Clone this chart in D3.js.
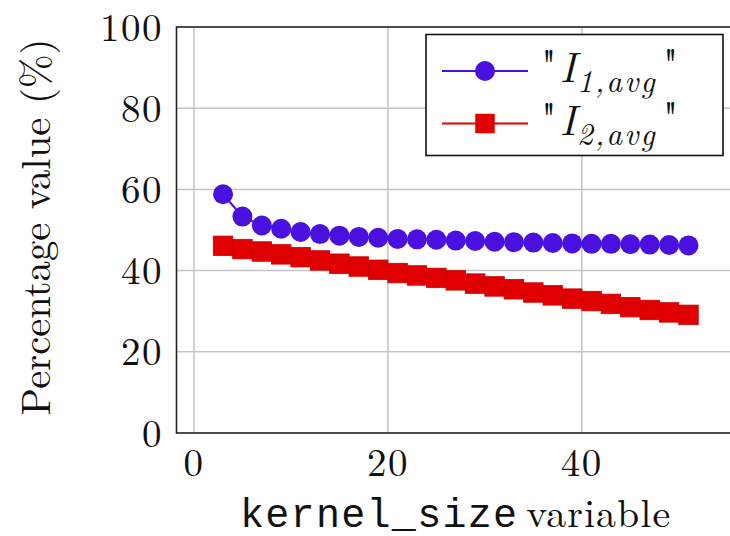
<!DOCTYPE html>
<html>
<head>
<meta charset="utf-8">
<script src="https://cdn.jsdelivr.net/npm/d3@7"></script>
<style>
  body { margin: 0; background: #fff; }
  svg { display: block; }
</style>
</head>
<body>
<div id="chart"></div>
<script>
//////////////////////////////////////////////////////////////////////////////
// Data

var kernelSizes = [3, 5, 7, 9, 11, 13, 15, 17, 19, 21, 23, 25, 27, 29, 31, 33, 35, 37, 39, 41, 43, 45, 47, 49, 51];
var i1Avg = [58.8, 53.3, 51.1, 50.3, 49.5, 49.0, 48.6, 48.3, 48.1, 47.8, 47.7, 47.6, 47.4,
             47.3, 47.1, 47.0, 46.9, 46.8, 46.7, 46.6, 46.6, 46.5, 46.4, 46.3, 46.2];
var i2Avg = [46.1, 45.3, 44.7, 44.0, 43.3, 42.5, 41.7, 41.0, 40.2, 39.4, 38.8, 38.2, 37.6,
             36.8, 36.1, 35.4, 34.6, 33.9, 33.1, 32.5, 31.8, 31.0, 30.3, 29.7, 29.1];
var xTicks = [0, 20, 40];
var yTicks = [0, 20, 40, 60, 80, 100];
var seriesNames = ["1,avg", "2,avg"];

//////////////////////////////////////////////////////////////////////////////
// Setup

var width = 730, height = 536;
var serif = "'Latin Modern Roman', 'CMU Serif', 'Liberation Serif', serif";
var mono = "'Liberation Mono', 'DejaVu Sans Mono', monospace";
var blue = "#4a10e0", red = "#e00000";

var xScale = d3.scaleLinear().domain([-1.8, 56]).range([176.5, 737]);
var yScale = d3.scaleLinear().domain([0, 100]).range([433, 27]);

var svg = d3.select("#chart")
    .append("svg")
    .attr("width", width)
    .attr("height", height);

// grid
svg.append("g")
    .selectAll("line")
    .data(xTicks)
    .enter()
    .append("line")
    .attr("x1", function(d) { return xScale(d); })
    .attr("x2", function(d) { return xScale(d); })
    .attr("y1", yScale(100))
    .attr("y2", yScale(0))
    .attr("stroke", "#c4c4c4")
    .attr("stroke-width", 1.5);

svg.append("g")
    .selectAll("line")
    .data(yTicks.slice(1, -1))
    .enter()
    .append("line")
    .attr("x1", xScale.range()[0])
    .attr("x2", xScale.range()[1])
    .attr("y1", function(d) { return yScale(d); })
    .attr("y2", function(d) { return yScale(d); })
    .attr("stroke", "#c4c4c4")
    .attr("stroke-width", 1.5);

// frame
svg.append("rect")
    .attr("x", xScale.range()[0])
    .attr("y", yScale(100))
    .attr("width", xScale.range()[1] - xScale.range()[0])
    .attr("height", yScale(0) - yScale(100))
    .attr("fill", "none")
    .attr("stroke", "#222")
    .attr("stroke-width", 1.6);

// tick labels
svg.append("g")
    .selectAll("text")
    .data(yTicks)
    .enter()
    .append("text")
    .attr("x", 163)
    .attr("y", function(d) { return yScale(d); })
    .attr("dy", "0.35em")
    .attr("text-anchor", "end")
    .attr("font-family", serif)
    .attr("font-size", 39)
    .attr("letter-spacing", 1.5)
    .attr("fill", "#111")
    .text(function(d) { return d; });

svg.append("g")
    .selectAll("text")
    .data(xTicks)
    .enter()
    .append("text")
    .attr("x", function(d) { return xScale(d); })
    .attr("y", 476)
    .attr("text-anchor", "middle")
    .attr("font-family", serif)
    .attr("font-size", 39)
    .attr("letter-spacing", 1.5)
    .attr("fill", "#111")
    .text(function(d) { return d; });

// axis labels
var yLabel = svg.append("text")
    .attr("transform", "translate(50," + 227 + ") rotate(-90)")
    .attr("text-anchor", "middle")
    .attr("font-family", serif)
    .attr("font-size", 40)
    .attr("fill", "#111")
    .text("Percentage value (%)");
var yl = yLabel.node().getComputedTextLength();
yLabel.attr("font-size", 40 * 377 / yl);

var xLabel = svg.append("text")
    .attr("x", 240)
    .attr("y", 527)
    .attr("fill", "#111");
xLabel.append("tspan")
    .attr("font-family", mono)
    .attr("font-size", 40)
    .attr("letter-spacing", 1.3)
    .text("kernel_size");
xLabel.append("tspan")
    .attr("font-family", serif)
    .attr("font-size", 40)
    .attr("dx", 8)
    .attr("letter-spacing", 1)
    .text("variable");

//////////////////////////////////////////////////////////////////////////////
// Series

var lineGen = function(vals) {
    return d3.line()
        .x(function(d, i) { return xScale(kernelSizes[i]); })
        .y(function(d) { return yScale(d); })(vals);
};

svg.append("path")
    .attr("d", lineGen(i1Avg))
    .attr("fill", "none")
    .attr("stroke", blue)
    .attr("stroke-width", 2);

svg.append("path")
    .attr("d", lineGen(i2Avg))
    .attr("fill", "none")
    .attr("stroke", red)
    .attr("stroke-width", 2);

svg.append("g")
    .selectAll("circle")
    .data(i1Avg)
    .enter()
    .append("circle")
    .attr("cx", function(d, i) { return xScale(kernelSizes[i]); })
    .attr("cy", function(d) { return yScale(d); })
    .attr("r", 10)
    .attr("fill", blue);

var sq = 19.5;
svg.append("g")
    .selectAll("rect")
    .data(i2Avg)
    .enter()
    .append("rect")
    .attr("x", function(d, i) { return xScale(kernelSizes[i]) - sq / 2; })
    .attr("y", function(d) { return yScale(d) - sq / 2; })
    .attr("width", sq)
    .attr("height", sq)
    .attr("fill", red)
    .attr("stroke", "#cc0000")
    .attr("stroke-width", 0.8);

//////////////////////////////////////////////////////////////////////////////
// Legend

var legend = svg.append("g");
legend.append("rect")
    .attr("x", 426)
    .attr("y", 34.5)
    .attr("width", 297)
    .attr("height", 121)
    .attr("fill", "#fff")
    .attr("stroke", "#111")
    .attr("stroke-width", 1.6);

var rows = legend.selectAll(".row")
    .data(seriesNames)
    .enter()
    .append("g")
    .attr("class", "row")
    .attr("transform", function(d, i) { return "translate(0," + (71 + i * 52.5) + ")"; });

rows.append("line")
    .attr("x1", 442).attr("x2", 528)
    .attr("y1", 0).attr("y2", 0)
    .attr("stroke", function(d, i) { return i === 0 ? blue : red; })
    .attr("stroke-width", 2);

rows.filter(function(d, i) { return i === 0; })
    .append("circle")
    .attr("cx", 485).attr("cy", 0).attr("r", 10)
    .attr("fill", blue);

rows.filter(function(d, i) { return i === 1; })
    .append("rect")
    .attr("x", 485 - sq / 2).attr("y", -sq / 2)
    .attr("width", sq).attr("height", sq)
    .attr("fill", red);

var lt = rows.append("text")
    .attr("x", 541)
    .attr("y", 11)
    .attr("font-family", serif)
    .attr("font-size", 42)
    .attr("fill", "#111");
lt.append("tspan").attr("dy", -3).text("\"");
lt.append("tspan").attr("dy", 3).attr("dx", 3).attr("font-style", "italic").text("I");
lt.append("tspan")
    .attr("dy", 10)
    .attr("dx", 1)
    .attr("font-size", 31)
    .attr("letter-spacing", 2)
    .attr("font-style", "italic")
    .text(function(d) { return d; });
lt.append("tspan")
    .attr("dy", -14)
    .attr("dx", 6)
    .text("\"");
</script>
</body>
</html>
